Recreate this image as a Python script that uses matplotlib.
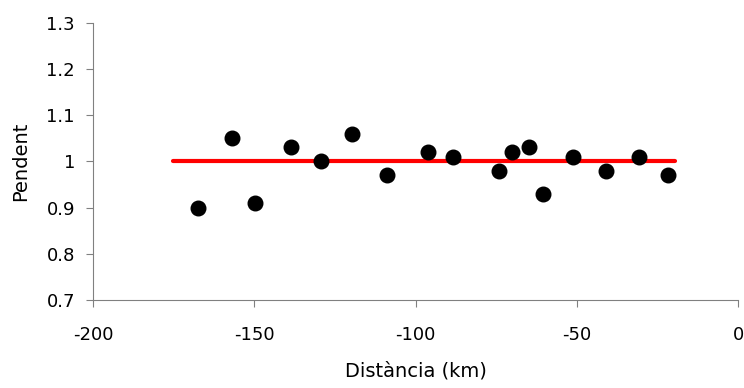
import matplotlib.pyplot as plt

plt.rcParams["axes.unicode_minus"] = False

# punts mesurats
distancia = [-167.5, -157, -149.8, -138.6, -129.3, -119.8, -108.8, -96.1, -88.4,
             -74.2, -70, -64.7, -60.6, -51.1, -41, -30.6, -21.7]
pendent = [0.90, 1.05, 0.91, 1.03, 1.00, 1.06, 0.97, 1.02, 1.01,
           0.98, 1.02, 1.03, 0.93, 1.01, 0.98, 1.01, 0.97]

# recta de referencia
linia_x = [-175.3, -19.6]
linia_y = [1.0, 1.0]

fig = plt.figure(figsize=(7.44, 3.88), dpi=100)
ax = fig.add_axes([93 / 744, 1 - 300 / 388, 645 / 744, 277.3 / 388])

ax.plot(linia_x, linia_y, color="#ff0000", linewidth=3, solid_capstyle="round", zorder=2)
ax.scatter(distancia, pendent, s=110, color="black", zorder=3)

ax.set_xlim(-200, 0)
ax.set_ylim(0.7, 1.3)
ax.set_xticks([-200, -150, -100, -50, 0])
ax.set_yticks([0.7, 0.8, 0.9, 1.0, 1.1, 1.2, 1.3])
ax.set_yticklabels(["0.7", "0.8", "0.9", "1", "1.1", "1.2", "1.3"])

for s in ["top", "right"]:
    ax.spines[s].set_visible(False)
for s in ["left", "bottom"]:
    ax.spines[s].set_color("#808080")
ax.tick_params(axis="both", colors="#808080", labelcolor="black", labelsize=13, length=5)
ax.tick_params(axis="x", pad=14)
ax.tick_params(axis="y", pad=8)

ax.set_xlabel("Distància (km)", fontsize=14, labelpad=12)
ax.set_ylabel("Pendent", fontsize=14, labelpad=12)

fig.savefig("out.png", dpi=100)
